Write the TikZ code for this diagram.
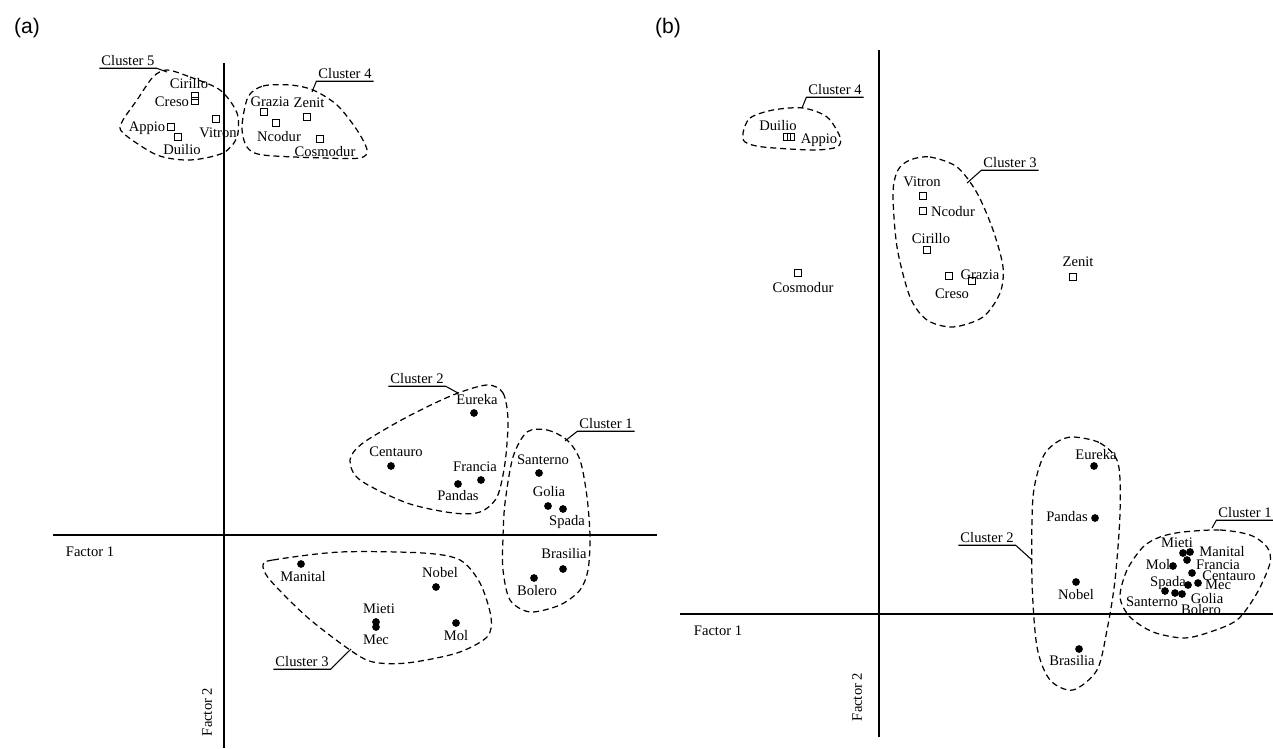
\documentclass[tikz,border=0pt]{standalone}
\usepackage{fontspec}
\setmainfont{Liberation Serif}
\newfontfamily\panelfont{Liberation Sans}

\begin{document}
\begin{tikzpicture}[x=0.02cm, y=-0.02cm,
	pt/.style={circle, fill, inner sep=0pt, minimum size=4.4pt},
	sq/.style={draw, line width=0.5pt, inner sep=0pt, minimum size=4.2pt},
	lbl/.style={inner sep=0pt, font=\fontsize{8.3}{10}\selectfont},
	clname/.style={lbl, inner xsep=1pt, inner ysep=1pt},
	clu/.style={dash pattern=on 3.4pt off 2.2pt, line width=0.7pt},
	axis/.style={line width=0.9pt},
	leader/.style={line width=0.6pt},
	panel/.style={inner sep=0pt, font=\panelfont\fontsize{12}{14}\selectfont}]
			\useasboundingbox (0,0) rectangle (1273,749);
			
			%%%%% panel (a)
			\begin{scope}
			\node[panel] (pa) at (27,28) {(a)};
			\draw[axis] (224,63) -- (224,748); % factor 2
			\draw[axis] (53,535) -- (657,535); % factor 1
			\node[lbl] (f1a) at (90,552) {Factor 1};
			\node[lbl, rotate=90] (f2a) at (207,712) {Factor 2};
			
			% cluster 5
			\node[sq] (cirA) at (195,96) {};
			\node[sq] (creA) at (195,101) {};
			\node[sq] (appA) at (171,127) {};
			\node[sq] (duiA) at (178,137) {};
			\node[sq] (vitA) at (216,119) {};
			\node[lbl] (cirAl) at (189,84) {Cirillo};
			\node[lbl] (creAl) at (172,102) {Creso};
			\node[lbl] (appAl) at (147,128) {Appio};
			\node[lbl] (duiAl) at (182,150) {Duilio};
			\node[lbl] (vitAl) at (218,133) {Vitron};
			\draw[clu] plot[smooth cycle] coordinates {(167,70) (190,77) (220,90) (237,113) (237,137) (223,153) (190,160) (157,155) (123,133) (122,122) (137,100) (153,77)};
			\node[clname] (c5a) at (128,61) {Cluster 5};
			\coordinate (c5atip) at (167,72);
			\draw[leader] (c5a.south west) -- (c5a.south east) -- (c5atip);
			
			% cluster 4
			\node[sq] (graA) at (264,112) {};
			\node[sq] (ncoA) at (276,123) {};
			\node[sq] (zenA) at (307,117) {};
			\node[sq] (cosA) at (320,139) {};
			\node[lbl] (graAl) at (270,102) {Grazia};
			\node[lbl] (zenAl) at (309,103) {Zenit};
			\node[lbl] (ncoAl) at (279,137) {Ncodur};
			\node[lbl] (cosAl) at (325,152) {Cosmodur};
			\draw[clu] plot[smooth cycle] coordinates {(248,97) (263,86) (290,85) (313,90) (337,105) (357,130) (367,150) (360,158) (323,158) (263,155) (247,147) (242,127)};
			\node[clname] (c4a) at (345,74) {Cluster 4};
			\coordinate (c4atip) at (312,92);
			\draw[leader] (c4a.south east) -- (c4a.south west) -- (c4atip);
			
			% cluster 2
			\node[pt] (eurA) at (474,413) {};
			\node[pt] (cenA) at (391,466) {};
			\node[pt] (fraA) at (481,480) {};
			\node[pt] (panA) at (458,484) {};
			\node[lbl] (eurAl) at (477,400) {Eureka};
			\node[lbl] (cenAl) at (396,452) {Centauro};
			\node[lbl] (fraAl) at (475,467) {Francia};
			\node[lbl] (panAl) at (458,496) {Pandas};
			\draw[clu] plot[smooth cycle] coordinates {(487,385) (503,393) (508,420) (505,463) (497,497) (480,512) (453,513) (407,503) (360,480) (350,460) (363,443) (407,417) (453,395)};
			\node[clname] (c2a) at (417,379) {Cluster 2};
			\coordinate (c2atip) at (458,393);
			\draw[leader] (c2a.south west) -- (c2a.south east) -- (c2atip);
			
			% cluster 1
			\node[pt] (sanA) at (539,473) {};
			\node[pt] (golA) at (548,506) {};
			\node[pt] (spaA) at (563,509) {};
			\node[pt] (braA) at (563,569) {};
			\node[pt] (bolA) at (534,578) {};
			\node[lbl] (sanAl) at (543,460) {Santerno};
			\node[lbl] (golAl) at (549,492) {Golia};
			\node[lbl] (spaAl) at (567,522) {Spada};
			\node[lbl] (braAl) at (564,554) {Brasilia};
			\node[lbl] (bolAl) at (537,591) {Bolero};
			\draw[clu] plot[smooth cycle] coordinates {(527,432) (547,430) (567,440) (580,460) (587,497) (590,537) (588,570) (580,590) (560,605) (530,612) (510,600) (503,570) (503,537) (505,503) (513,457)};
			\node[clname] (c1a) at (606,424) {Cluster 1};
			\coordinate (c1atip) at (565,441);
			\draw[leader] (c1a.south east) -- (c1a.south west) -- (c1atip);
			
			% cluster 3
			\node[pt] (manA) at (301,564) {};
			\node[pt] (nobA) at (436,587) {};
			\node[pt] (mieA) at (376,622) {};
			\node[pt] (mecA) at (376,627) {};
			\node[pt] (molA) at (456,623) {};
			\node[lbl] (manAl) at (303,577) {Manital};
			\node[lbl] (nobAl) at (440,573) {Nobel};
			\node[lbl] (mieAl) at (379,609) {Mieti};
			\node[lbl] (mecAl) at (376,640) {Mec};
			\node[lbl] (molAl) at (456,636) {Mol};
			\draw[clu] plot[smooth cycle] coordinates {(263,565) (273,560) (340,552) (423,553) (460,560) (480,583) (491,617) (487,637) (457,653) (407,663) (373,662) (350,650) (307,617) (270,580)};
			\node[clname] (c3a) at (302,662) {Cluster 3};
			\coordinate (c3atip) at (351,649);
			\draw[leader] (c3a.south west) -- (c3a.south east) -- (c3atip);
			\end{scope}
			
			%%%%% panel (b)
			\begin{scope}
			\node[panel] (pb) at (668,28) {(b)};
			\draw[axis] (879,50) -- (879,737); % factor 2
			\draw[axis] (680,614) -- (1273,614); % factor 1
			\node[lbl] (f1b) at (718,631) {Factor 1};
			\node[lbl, rotate=90] (f2b) at (857,697) {Factor 2};
			
			% cluster 4
			\node[sq] (duiB) at (787,137) {};
			\node[sq] (appB) at (791,137) {};
			\node[lbl] (duiBl) at (778,126) {Duilio};
			\node[lbl] (appBl) at (819,140) {Appio};
			\draw[clu] plot[smooth cycle] coordinates {(743,133) (750,118) (773,110) (803,108) (827,117) (840,137) (837,147) (813,150) (763,147) (745,142)};
			\node[clname] (c4b) at (835,90) {Cluster 4};
			\coordinate (c4btip) at (802,108);
			\draw[leader] (c4b.south east) -- (c4b.south west) -- (c4btip);
			
			% lone points
			\node[sq] (cosB) at (798,273) {};
			\node[lbl] (cosBl) at (803,288) {Cosmodur};
			\node[sq] (zenB) at (1073,277) {};
			\node[lbl] (zenBl) at (1078,262) {Zenit};
			
			% cluster 3
			\node[sq] (vitB) at (923,196) {};
			\node[sq] (ncoB) at (923,211) {};
			\node[sq] (cirB) at (927,250) {};
			\node[sq] (creB) at (949,276) {};
			\node[sq] (graB) at (972,281) {};
			\node[lbl] (vitBl) at (922,182) {Vitron};
			\node[lbl] (ncoBl) at (953,212) {Ncodur};
			\node[lbl] (cirBl) at (931,239) {Cirillo};
			\node[lbl] (graBl) at (980,275) {Grazia};
			\node[lbl] (creBl) at (952,294) {Creso};
			\draw[clu] plot[smooth cycle] coordinates {(910,160) (930,157) (957,167) (977,193) (993,230) (1003,267) (1000,293) (983,317) (953,327) (927,320) (910,297) (897,247) (893,193) (898,170)};
			\node[clname] (c3b) at (1010,163) {Cluster 3};
			\coordinate (c3btip) at (967,183);
			\draw[leader] (c3b.south east) -- (c3b.south west) -- (c3btip);
			
			% cluster 2
			\node[pt] (eurB) at (1094,466) {};
			\node[pt] (panB) at (1095,518) {};
			\node[pt] (nobB) at (1076,582) {};
			\node[pt] (braB) at (1079,649) {};
			\node[lbl] (eurBl) at (1096,455) {Eureka};
			\node[lbl] (panBl) at (1067,517) {Pandas};
			\node[lbl] (nobBl) at (1076,595) {Nobel};
			\node[lbl] (braBl) at (1072,661) {Brasilia};
			\draw[clu] plot[smooth cycle] coordinates {(1073,437) (1100,443) (1118,463) (1120,513) (1115,580) (1107,630) (1097,670) (1073,690) (1050,680) (1037,647) (1032,580) (1033,497) (1043,457) (1057,442)};
			\node[clname] (c2b) at (987,538) {Cluster 2};
			\coordinate (c2btip) at (1032,560);
			\draw[leader] (c2b.south west) -- (c2b.south east) -- (c2btip);
			
			% cluster 1
			\node[pt] (mieB) at (1183,553) {};
			\node[pt] (manB) at (1190,552) {};
			\node[pt] (fraB) at (1187,560) {};
			\node[pt] (molB) at (1173,566) {};
			\node[pt] (cenB) at (1192,573) {};
			\node[pt] (mecB) at (1198,583) {};
			\node[pt] (bolB) at (1188,585) {};
			\node[pt] (spaB) at (1165,591) {};
			\node[pt] (sanB) at (1175,593) {};
			\node[pt] (golB) at (1182,594) {};
			\node[lbl] (mieBl) at (1177,543) {Mieti};
			\node[lbl] (manBl) at (1222,552) {Manital};
			\node[lbl] (molBl) at (1158,565) {Mol};
			\node[lbl] (fraBl) at (1218,565) {Francia};
			\node[lbl] (cenBl) at (1229,576) {Centauro};
			\node[lbl] (spaBl) at (1168,583) {Spada};
			\node[lbl] (mecBl) at (1218,585) {Mec};
			\node[lbl] (golBl) at (1207,599) {Golia};
			\node[lbl] (sanBl) at (1152,602) {Santerno};
			\node[lbl] (bolBl) at (1201,610) {Bolero};
			\draw[clu] plot[smooth cycle] coordinates {(1183,532) (1220,530) (1250,535) (1267,547) (1270,563) (1257,593) (1237,620) (1207,633) (1183,638) (1153,632) (1130,617) (1120,597) (1127,570) (1143,547) (1160,537)};
			\node[clname] (c1b) at (1245,513) {Cluster 1};
			\coordinate (c1btip) at (1212,528);
			\draw[leader] (c1b.south east) -- (c1b.south west) -- (c1btip);
			\end{scope}
\end{tikzpicture}
\end{document}
